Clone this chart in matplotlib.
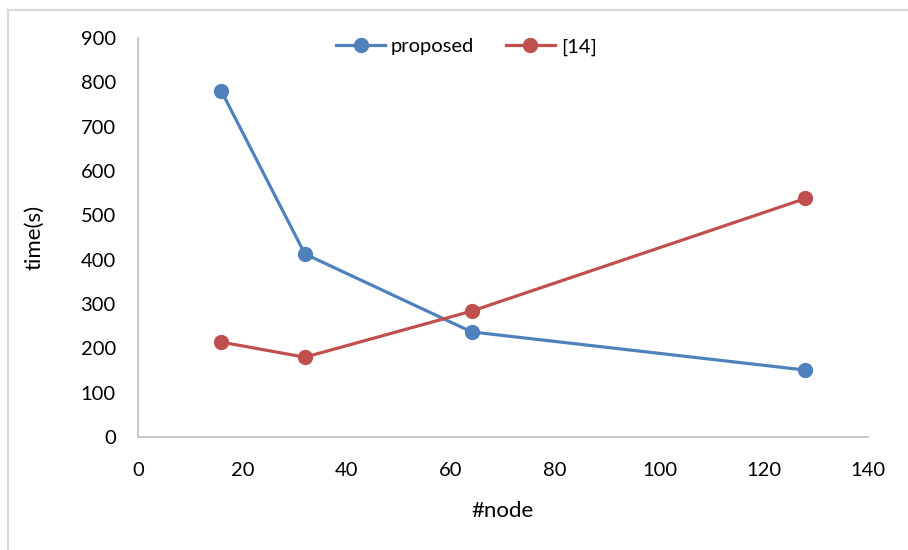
import matplotlib.pyplot as plt
from matplotlib.patches import Rectangle

nodes = [16, 32, 64, 128]
proposed = [780, 413, 237, 151]
ref14 = [214, 180, 284, 538]

plt.rcParams['font.family'] = ['Lato', 'DejaVu Sans']

fig = plt.figure(figsize=(9.08, 5.5), dpi=100)
# light frame around the chart area (Excel style)
fig.patches.append(Rectangle((8 / 908, -0.1), 1.2, (550 - 10) / 550 + 0.1,
                             transform=fig.transFigure, fill=False,
                             edgecolor='#d9d9d9', linewidth=1.5))

ax = fig.add_axes([138 / 908, 113 / 550, 730 / 908, 399 / 550])
ax.plot(nodes, proposed, color='#4f81bd', lw=2.3, marker='o', ms=10, label='proposed')
ax.plot(nodes, ref14, color='#c0504d', lw=2.3, marker='o', ms=10, label='[14]')

ax.set_xlim(0, 140)
ax.set_ylim(0, 900)
ax.set_xticks(range(0, 141, 20))
ax.set_yticks(range(0, 901, 100))
ax.tick_params(length=0, labelsize=14.5)
ax.tick_params(axis='y', pad=16)
ax.tick_params(axis='x', pad=18)
for s in ['top', 'right']:
    ax.spines[s].set_visible(False)
for s in ['left', 'bottom']:
    ax.spines[s].set_color('#bfbfbf')
    ax.spines[s].set_linewidth(1.2)

ax.set_xlabel('#node', fontsize=16, labelpad=16)
ax.set_ylabel('time(s)', fontsize=16, labelpad=26)
ax.legend(loc='upper center', bbox_to_anchor=(0.45, 1.045), ncol=2, frameon=False,
          fontsize=14.5, handlelength=2.4, columnspacing=1.6, handletextpad=0.3)

fig.savefig('out.png')
